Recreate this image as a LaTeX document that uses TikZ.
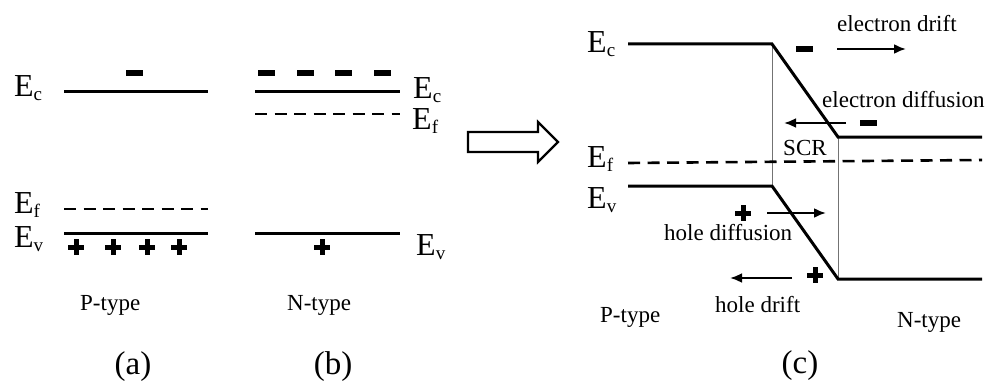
\documentclass[tikz,border=0pt]{standalone}
\usepackage{fontspec}
\setmainfont{Liberation Serif}
\usetikzlibrary{arrows.meta}
\newcommand\lvlname[1]{\fontsize{32}{34}\selectfont E\raisebox{-4pt}{\fontsize{19}{19}\selectfont #1}}
\begin{document}
\begin{tikzpicture}[x=1pt,y=-1pt,
  band/.style={line width=3pt},
  fermi/.style={line width=2.6pt, dash pattern=on 12pt off 7.5pt},
  scrline/.style={line width=0.6pt, black!55},
  lvl/.style={inner sep=0, anchor=base west},
  txt/.style={inner sep=0, anchor=base west, font=\fontsize{23}{26}\selectfont},
  sublabel/.style={inner sep=0, anchor=base, font=\fontsize{33}{36}\selectfont},
  elec/.style={fill=black, inner sep=0, minimum width=17pt, minimum height=6pt},
  hole/.style={inner sep=0, minimum size=16pt, path picture={
      \fill ([xshift=-8pt,yshift=-2.5pt]path picture bounding box.center) rectangle ([xshift=8pt,yshift=2.5pt]path picture bounding box.center);
      \fill ([xshift=-2.5pt,yshift=-8pt]path picture bounding box.center) rectangle ([xshift=2.5pt,yshift=8pt]path picture bounding box.center);}},
  flow/.style={line width=2.3pt, -{Latex[length=12pt,width=10pt]}},
]
\useasboundingbox (0,0) rectangle (992,385);

% ---------- (a) P-type ----------
\coordinate (aC1) at (64,92);  \coordinate (aC2) at (208,92);
\coordinate (aF1) at (64,209); \coordinate (aF2) at (208,209);
\coordinate (aV1) at (64,233); \coordinate (aV2) at (208,233);
\draw[band] (aC1) -- (aC2);
\draw[fermi] (aF1) -- (aF2);
\draw[band] (aV1) -- (aV2);
\node[lvl] (aEc) at (14,97) {\lvlname{c}};
\node[lvl] (aEf) at (14,213) {\lvlname{f}};
\node[lvl] (aEv) at (14,247) {\lvlname{v}};
\node[elec] (ae1) at (134,73) {};
\node[hole] (ah1) at (76,247) {};
\node[hole] (ah2) at (113,247) {};
\node[hole] (ah3) at (147,247) {};
\node[hole] (ah4) at (179,247) {};
\node[txt] (aP) at (80,310) {P-type};
\node[sublabel] (alab) at (133,374) {(a)};

% ---------- (b) N-type ----------
\coordinate (bC1) at (255,92);  \coordinate (bC2) at (400,92);
\coordinate (bF1) at (255,114); \coordinate (bF2) at (400,114);
\coordinate (bV1) at (255,233); \coordinate (bV2) at (400,233);
\draw[band] (bC1) -- (bC2);
\draw[fermi] (bF1) -- (bF2);
\draw[band] (bV1) -- (bV2);
\node[lvl] (bEc) at (413,99) {\lvlname{c}};
\node[lvl] (bEf) at (412,129) {\lvlname{f}};
\node[lvl] (bEv) at (416,255) {\lvlname{v}};
\node[elec] (be1) at (266,73) {};
\node[elec] (be2) at (305,73) {};
\node[elec] (be3) at (343,73) {};
\node[elec] (be4) at (382,73) {};
\node[hole] (bh1) at (322,247) {};
\node[txt] (bN) at (287,310) {N-type};
\node[sublabel] (blab) at (333,374) {(b)};

% ---------- big open arrow ----------
\draw[line width=2.2pt, line join=miter] (468,132) -- (538,132) -- (538,122) -- (558,142) -- (538,162) -- (538,152) -- (468,152) -- cycle;

% ---------- (c) junction ----------
\coordinate (cC1) at (628,44);  \coordinate (cC2) at (772,44);
\coordinate (cC3) at (838,137); \coordinate (cC4) at (982,137);
\coordinate (cV1) at (628,186); \coordinate (cV2) at (772,186);
\coordinate (cV3) at (838,279); \coordinate (cV4) at (982,279);
\coordinate (cF1) at (628,163); \coordinate (cF2) at (982,160);
\draw[scrline] (cC2) -- (cV2);
\draw[scrline] (cC3) -- (cV3);
\draw[band] (cC1) -- (cC2) -- (cC3) -- (cC4);
\draw[band] (cV1) -- (cV2) -- (cV3) -- (cV4);
\draw[fermi] (cF1) -- (cF2);
\node[lvl] (cEc) at (587,53) {\lvlname{c}};
\node[lvl] (cEf) at (587,167) {\lvlname{f}};
\node[lvl] (cEv) at (587,208) {\lvlname{v}};

\node[elec] (ce1) at (804,49) {};
\coordinate (ed1) at (837,49); \coordinate (ed2) at (906,49);
\draw[flow] (ed1) -- (ed2);
\node[txt] (tedrift) at (837,32) {electron drift};

\node[txt] (tediff) at (822,107) {electron diffusion};
\node[elec] (ce2) at (868,123) {};
\coordinate (ef1) at (846,123); \coordinate (ef2) at (784,123);
\draw[flow] (ef1) -- (ef2);
\node[txt] (tscr) at (783,155) {SCR};

\node[hole] (ch1) at (743,213) {};
\coordinate (hf1) at (767,213); \coordinate (hf2) at (826,213);
\draw[flow] (hf1) -- (hf2);
\node[txt] (thdiff) at (664,240) {hole diffusion};

\node[hole] (ch2) at (815,275) {};
\coordinate (hd1) at (792,278); \coordinate (hd2) at (730,278);
\draw[flow] (hd1) -- (hd2);
\node[txt] (thdrift) at (715,312) {hole drift};

\node[txt] (cP) at (600,322) {P-type};
\node[txt] (cN) at (897,327) {N-type};
\node[sublabel] (clab) at (800,373) {(c)};
\end{tikzpicture}
\end{document}
